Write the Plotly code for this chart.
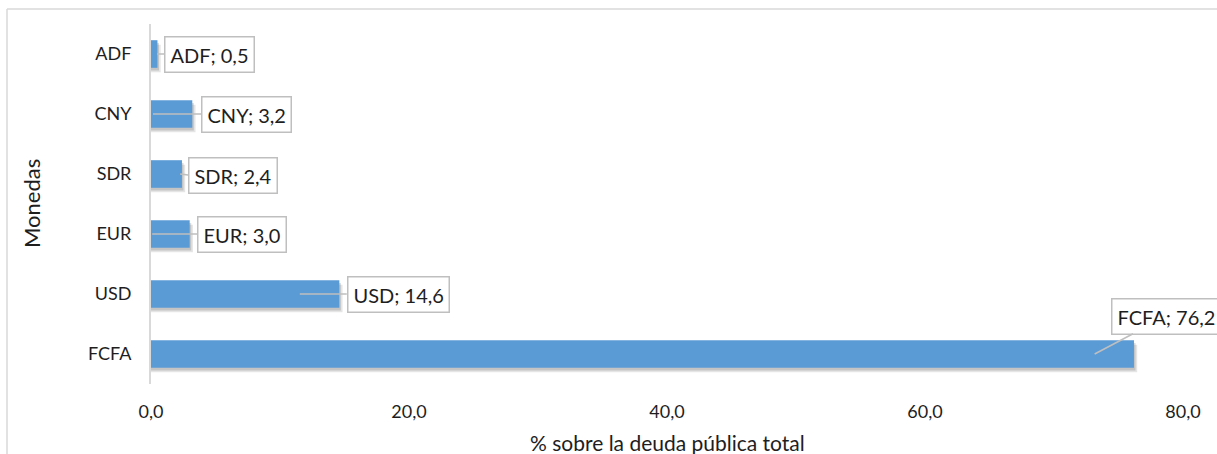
import plotly.graph_objects as go

# ---- data ----
categories = ["FCFA", "USD", "EUR", "SDR", "CNY", "ADF"]
values = [76.2, 14.6, 3.0, 2.4, 3.2, 0.5]
x_ticks = [0, 20, 40, 60, 80]

# ---- label placement (layout, not data) ----
tip_frac = [0.96, 0.79, 0.03, 0.94, 0.05, 0.94]   # where the pointer touches the bar (fraction of bar)
label_ax = [72, 47, 45, 8, 48, 7]                 # pixel offset of box anchor from tip
label_ay = [-38, 0, 0, 1, 0, 0]
label_anchor = ["center", "left", "left", "left", "left", "left"]

FONT = "Lato, 'Open Sans', sans-serif"
TXT = "#1e1e1e"
BAR = "#5B9BD5"
BAR_W = 0.46

fig = go.Figure()

# soft drop shadow
for col, dy, dx in [("rgba(0,0,0,0.10)", 0.075, 0.25), ("rgba(0,0,0,0.14)", 0.045, 0.12)]:
    fig.add_trace(go.Bar(
        x=[v + dx for v in values], y=categories, orientation="h",
        width=BAR_W, offset=-BAR_W / 2 - dy,
        marker=dict(color=col, line=dict(width=0)),
        hoverinfo="skip", showlegend=False,
    ))

fig.add_trace(go.Bar(
    x=values, y=categories, orientation="h",
    width=BAR_W, offset=-BAR_W / 2,
    marker=dict(color=BAR, line=dict(width=0)),
    showlegend=False,
))

annotations = []
for cat, v, f, ax, ay, anc in zip(categories, values, tip_frac, label_ax, label_ay, label_anchor):
    annotations.append(dict(
        x=v * f, y=cat, xref="x", yref="y",
        text=f"{cat}; {v:.1f}".replace(".", ","),
        showarrow=True, arrowhead=0, arrowwidth=1.5, arrowcolor="#BFBFBF",
        ax=ax, ay=ay, axref="pixel", ayref="pixel",
        xanchor=anc, yanchor="middle",
        bgcolor="white", bordercolor="#BFBFBF", borderwidth=1.5, borderpad=5,
        font=dict(family=FONT, size=20, color=TXT),
    ))

# axis titles
annotations.append(dict(
    text="% sobre la deuda pública total", xref="paper", yref="paper",
    x=0.5, y=0, xanchor="center", yanchor="top", yshift=-44, showarrow=False,
    font=dict(family=FONT, size=21, color=TXT),
))
annotations.append(dict(
    text="Monedas", xref="paper", yref="paper", textangle=-90,
    x=0, y=0.5, xanchor="center", yanchor="middle", xshift=-120, showarrow=False,
    font=dict(family=FONT, size=22, color=TXT),
))

# outer chart-area border (top and left visible)
L, R, T, B = 151, 1183, 24, 384
def px2x(px):
    return (px - L) / (R - L)
def px2y(py):
    return (B - py) / (B - T)

shapes = [
    dict(type="line", xref="paper", yref="paper", x0=px2x(7), x1=px2x(1230),
         y0=px2y(9), y1=px2y(9), line=dict(color="#D9D9D9", width=1.5)),
    dict(type="line", xref="paper", yref="paper", x0=px2x(7), x1=px2x(7),
         y0=px2y(9), y1=px2y(470), line=dict(color="#D9D9D9", width=1.5)),
]

fig.update_layout(
    width=1217, height=454,
    margin=dict(l=L, r=1217 - R, t=T, b=454 - B),
    paper_bgcolor="white", plot_bgcolor="white",
    barmode="overlay", separators=",.",
    font=dict(family=FONT, size=18, color=TXT),
    annotations=annotations, shapes=shapes,
    xaxis=dict(
        range=[0, 80], tickvals=x_ticks, tickformat=".1f",
        showgrid=False, zeroline=False, showline=False,
        ticks="outside", ticklen=11, tickcolor="rgba(0,0,0,0)",
        tickfont=dict(family=FONT, size=18, color=TXT),
    ),
    yaxis=dict(
        type="category", categoryorder="array", categoryarray=categories,
        range=[-0.5, 5.5],
        showgrid=False, zeroline=False,
        showline=True, linecolor="#D9D9D9", linewidth=2,
        ticks="outside", ticklen=14, tickcolor="rgba(0,0,0,0)",
        tickfont=dict(family=FONT, size=18, color=TXT),
    ),
)

fig.write_html("out.html")
